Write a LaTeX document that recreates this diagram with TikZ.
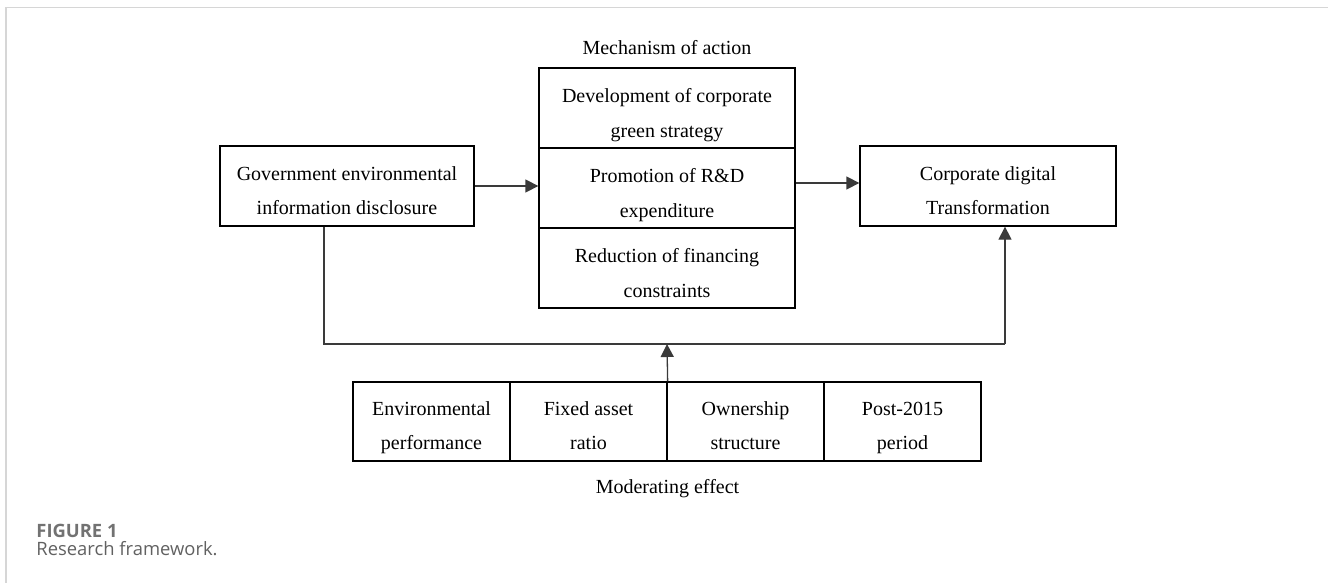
\documentclass[tikz,border=0pt]{standalone}
\usepackage{fontspec}
\setmainfont{Liberation Serif}
\newfontfamily\capfont{Open Sans}
\usetikzlibrary{arrows.meta}
\definecolor{framegray}{HTML}{D6D6D6}
\definecolor{capgray}{HTML}{727272}
\definecolor{linegray}{HTML}{3A3A3A}
\newcommand\lnS{\strut}
\tikzset{
  cell/.style={draw=black, line width=0.65pt, minimum height=40pt, inner sep=0pt},
  txt/.style={font=\fontsize{10}{17.2}\selectfont, align=center, inner sep=0pt},
  lbl/.style={font=\fontsize{10}{12}\selectfont, inner sep=0pt},
  conn/.style={draw=linegray, line width=0.65pt},
  arr/.style={conn, -{Triangle[length=6.5pt,width=6.5pt]}},
}
\begin{document}
\begin{tikzpicture}[x=0.5pt,y=-0.5pt]
\useasboundingbox (0,0) rectangle (1328,583);
% page frame
\draw[framegray, line width=0.8pt] (6,583) -- (6,7.5) -- (1328,7.5);

% main boxes
\node[cell, minimum width=127pt] (gov) at (347,186) {};
\node[txt] (govt) at ([yshift=-2.3pt]gov.center) {\lnS Government environmental\\\lnS information disclosure};

\node[cell, minimum width=128pt] (m1) at (667,108) {};
\node[cell, minimum width=128pt] (m2) at (667,188) {};
\node[cell, minimum width=128pt] (m3) at (667,268) {};
\node[txt] (m1t) at ([yshift=-2.5pt]m1.center) {\lnS Development of corporate\\\lnS green strategy};
\node[txt] (m2t) at ([yshift=-2.5pt]m2.center) {\lnS Promotion of R\&D\\\lnS expenditure};
\node[txt] (m3t) at ([yshift=-2.5pt]m3.center) {\lnS Reduction of financing\\\lnS constraints};
\node[lbl] (mtitle) at (667,48) {Mechanism of action};

\node[cell, minimum width=128pt] (corp) at (988,186) {};
\node[txt] (corpt) at ([yshift=-2.2pt]corp.center) {\lnS Corporate digital\\\lnS Transformation};

% moderating boxes
\node[cell, minimum width=78.5pt, minimum height=39.5pt] (b1) at (431.5,421.5) {};
\node[cell, minimum width=78.5pt, minimum height=39.5pt] (b2) at (588.5,421.5) {};
\node[cell, minimum width=78.5pt, minimum height=39.5pt] (b3) at (745.5,421.5) {};
\node[cell, minimum width=78.5pt, minimum height=39.5pt] (b4) at (902.5,421.5) {};
\node[txt] (b1t) at ([yshift=-2pt]b1.center) {\lnS Environmental\\\lnS performance};
\node[txt] (b2t) at ([yshift=-2pt]b2.center) {\lnS Fixed asset\\\lnS ratio};
\node[txt] (b3t) at ([yshift=-2pt]b3.center) {\lnS Ownership\\\lnS structure};
\node[txt] (b4t) at ([yshift=-2pt]b4.center) {\lnS Post-2015\\\lnS period};
\node[lbl] (modt) at (667.5,489) {Moderating effect};

% connectors
\coordinate (gl) at (324,344);
\coordinate (cr) at (1005,344);
\coordinate (mid) at (667,344);
\draw[arr] (gov.east) -- (gov.east -| m2.west);
\draw[arr] ([yshift=2.5pt]m2.east) -- ([yshift=2.5pt]m2.east -| corp.west);
\draw[conn] (gl |- gov.south) -- (gl) -- (cr);
\draw[arr] (cr) -- (cr |- corp.south);
\draw[arr] (b2.north east) -- (mid);

% caption
\node[anchor=west, inner sep=0pt, font=\capfont\bfseries\fontsize{9.2}{11}\selectfont, text=capgray] (fig) at (36,531) {FIGURE 1};
\node[anchor=west, inner sep=0pt, font=\capfont\fontsize{9.2}{11}\selectfont, text=capgray!85!black] (cap) at (36,549) {Research framework.};
\end{tikzpicture}
\end{document}
